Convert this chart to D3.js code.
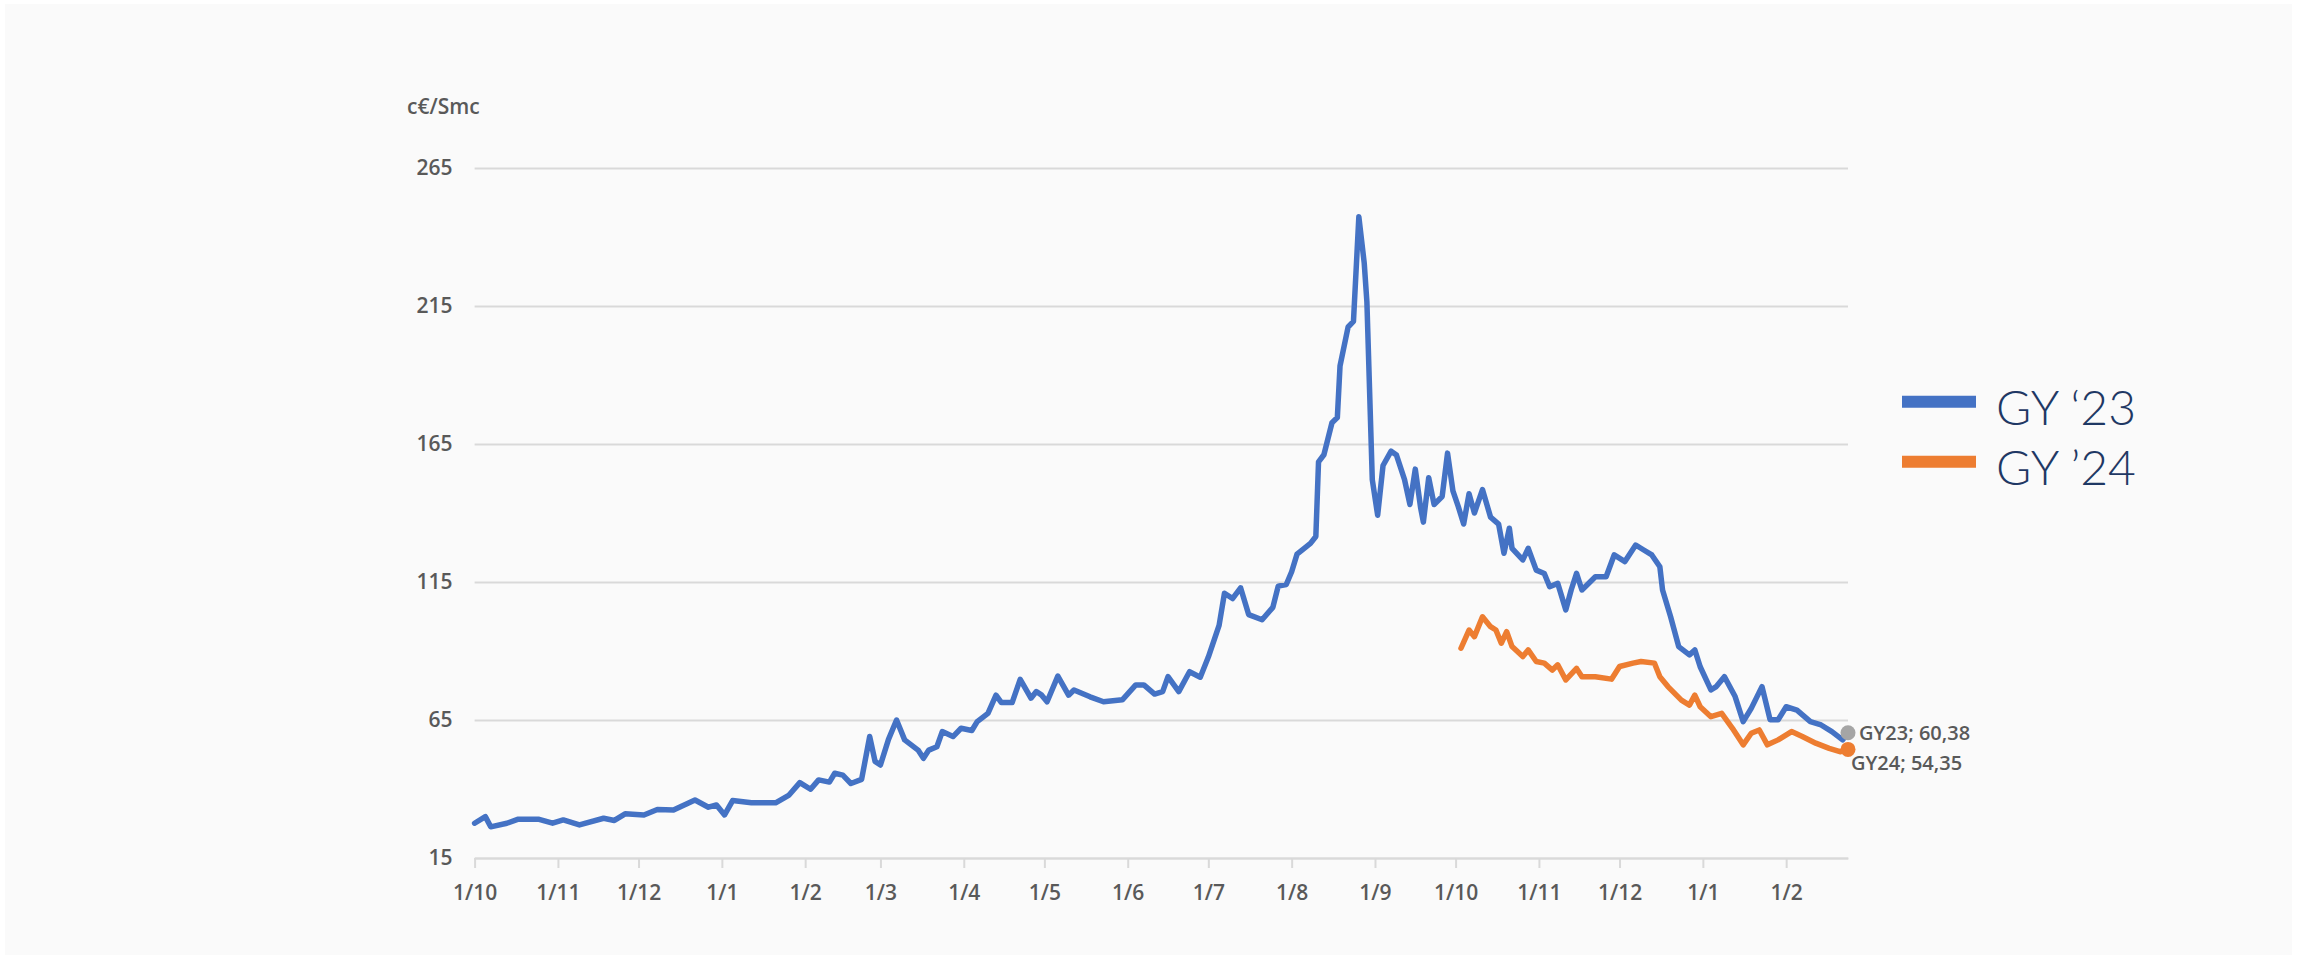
<!DOCTYPE html>
<html>
<head>
<meta charset="utf-8">
<script src="https://cdn.jsdelivr.net/npm/d3@7"></script>
<style>
  html, body { margin: 0; padding: 0; background: #ffffff; }
  svg { display: block; }
  .tick text { font-family: "Open Sans", sans-serif; }
</style>
</head>
<body>
<svg id="chart" width="2300" height="959"></svg>
<script>
// GY '23 (date, c€/Smc)
const gy23Dates = [
  "2021-10-01","2021-10-05","2021-10-07","2021-10-13","2021-10-17","2021-10-25","2021-10-30",
  "2021-11-03","2021-11-09","2021-11-18","2021-11-22","2021-11-26",
  "2021-12-03","2021-12-08","2021-12-14","2021-12-22","2021-12-27","2021-12-30",
  "2022-01-02","2022-01-05","2022-01-12","2022-01-21","2022-01-26","2022-01-30",
  "2022-02-03","2022-02-06","2022-02-10","2022-02-12","2022-02-15","2022-02-18","2022-02-22","2022-02-25","2022-02-27",
  "2022-03-01","2022-03-04","2022-03-07","2022-03-10","2022-03-15","2022-03-17","2022-03-19","2022-03-22","2022-03-24","2022-03-28","2022-03-31",
  "2022-04-04","2022-04-06","2022-04-10","2022-04-13","2022-04-15","2022-04-19","2022-04-22","2022-04-26","2022-04-28","2022-04-30",
  "2022-05-02","2022-05-06","2022-05-10","2022-05-12","2022-05-18","2022-05-23","2022-05-30",
  "2022-06-04","2022-06-07","2022-06-11","2022-06-14","2022-06-16","2022-06-20","2022-06-24","2022-06-28",
  "2022-07-01","2022-07-05","2022-07-07","2022-07-10","2022-07-13","2022-07-16","2022-07-21","2022-07-25","2022-07-27","2022-07-30",
  "2022-08-01","2022-08-03","2022-08-08","2022-08-10","2022-08-11","2022-08-13","2022-08-16","2022-08-18","2022-08-19","2022-08-22","2022-08-24","2022-08-26","2022-08-28","2022-08-29","2022-08-31",
  "2022-09-02","2022-09-04","2022-09-07","2022-09-09","2022-09-12","2022-09-14","2022-09-16","2022-09-18","2022-09-19","2022-09-21","2022-09-23","2022-09-26","2022-09-28","2022-09-30",
  "2022-10-02","2022-10-04","2022-10-06","2022-10-08","2022-10-11","2022-10-14","2022-10-17","2022-10-19","2022-10-21","2022-10-22","2022-10-26","2022-10-28","2022-10-31",
  "2022-11-03","2022-11-05","2022-11-08","2022-11-11","2022-11-13","2022-11-15","2022-11-17","2022-11-22","2022-11-26","2022-11-29",
  "2022-12-03","2022-12-07","2022-12-10","2022-12-13","2022-12-16","2022-12-17","2022-12-20","2022-12-23","2022-12-27","2022-12-29","2022-12-31",
  "2023-01-04","2023-01-06","2023-01-09","2023-01-13","2023-01-16","2023-01-19","2023-01-23","2023-01-26","2023-01-29",
  "2023-02-01","2023-02-05","2023-02-10","2023-02-14","2023-02-18","2023-02-22","2023-02-24"
];
const gy23Values = [
  27.6,30.0,26.3,27.6,29.0,29.0,27.6,
  28.8,27.0,29.4,28.6,31.0,
  30.6,32.6,32.4,36.0,33.4,34.2,
  30.6,35.8,35.0,35.0,37.8,42.3,
  39.9,43.3,42.5,45.7,45.0,42.0,43.5,59.0,50.0,
  48.7,58.0,65.0,57.8,54.1,51.1,54.1,55.3,60.8,59.0,62.0,
  61.2,64.4,67.4,74.0,71.3,71.3,79.7,72.9,75.3,74.0,
  71.6,80.9,74.0,75.9,73.4,71.6,72.3,
  77.7,77.7,74.4,75.3,80.7,75.3,82.5,80.5,
  87.8,99.3,110.9,109.0,112.9,103.2,101.3,105.8,113.5,114.1,
  118.7,125.1,129.0,131.5,158.5,161.1,172.7,174.6,193.3,207.4,209.4,247.3,230.6,216.4,152.1,
  139.2,157.2,162.4,161.0,152.1,143.1,155.9,141.8,136.7,152.8,143.1,146.0,161.7,148.0,
  142.3,136.0,147.0,140.0,148.5,138.5,136.0,125.4,134.5,127.2,123.0,127.2,119.3,
  118.1,113.3,114.5,104.9,112.1,118.1,112.1,116.9,116.9,124.8,
  122.4,128.4,126.6,124.8,120.5,112.1,102.4,91.6,88.6,90.4,84.3,
  75.9,77.1,80.7,73.5,64.4,69.2,77.1,65.1,65.1,
  69.8,68.6,64.4,63.2,60.8,57.8,60.38
];

// GY '24 (date, c€/Smc)
const gy24Dates = [
  "2022-10-03","2022-10-06","2022-10-08","2022-10-10","2022-10-11","2022-10-14","2022-10-16","2022-10-18","2022-10-20","2022-10-22","2022-10-26","2022-10-28","2022-10-31",
  "2022-11-03","2022-11-06","2022-11-08","2022-11-11","2022-11-15","2022-11-17","2022-11-22","2022-11-28",
  "2022-12-01","2022-12-06","2022-12-09","2022-12-14","2022-12-16","2022-12-19","2022-12-24","2022-12-27","2022-12-29","2022-12-31",
  "2023-01-04","2023-01-08","2023-01-12","2023-01-16","2023-01-19","2023-01-22","2023-01-25","2023-01-29",
  "2023-02-03","2023-02-07","2023-02-12","2023-02-17","2023-02-21","2023-02-24"
];
const gy24Values = [
  91.0,97.6,95.2,100.0,102.4,98.8,97.6,92.8,97.0,91.6,88.0,90.4,86.2,
  85.6,83.1,85.0,79.5,83.7,80.7,80.7,79.8,
  84.4,85.6,86.2,85.6,80.7,77.1,72.2,70.4,74.0,69.8,
  66.2,67.4,62.0,56.0,60.2,61.4,56.0,57.8,
  60.8,59.0,56.6,54.7,53.5,54.35
];

const yTicks = [15, 65, 115, 165, 215, 265];
const seriesNames = ["GY \u201823", "GY \u201924"];
const endLabels = ["GY23; 60,38", "GY24; 54,35"];

const parse = d3.timeParse("%Y-%m-%d");
const gy23 = gy23Dates.map((d, i) => ({ date: parse(d), value: gy23Values[i] }));
const gy24 = gy24Dates.map((d, i) => ({ date: parse(d), value: gy24Values[i] }));

const svg = d3.select("#chart");

// fond gris très clair avec bord blanc
svg.append("rect")
  .attr("x", 5).attr("y", 4)
  .attr("width", 2287).attr("height", 951)
  .attr("fill", "#fafafa");

const x = d3.scaleTime()
  .domain([parse("2021-10-01"), parse("2023-02-24")])
  .range([474.6, 1848]);

const y = d3.scaleLinear()
  .domain([15, 265])
  .range([858, 168]);

// grille horizontale + libellés Y
const yAxis = svg.append("g")
  .attr("transform", "translate(474.6,0)")
  .call(d3.axisLeft(y).tickValues(yTicks).tickSize(-(1848 - 474.6)).tickPadding(22));
yAxis.select(".domain").remove();
yAxis.selectAll(".tick line").attr("stroke", "#d9d9d9").attr("stroke-width", 2.2);
yAxis.selectAll(".tick text")
  .attr("fill", "#595959")
  .attr("font-size", 21)
  .attr("font-weight", 600);

// axe X
const xAxis = svg.append("g")
  .attr("transform", "translate(0,858)")
  .call(d3.axisBottom(x)
    .ticks(d3.timeMonth.every(1))
    .tickFormat(d => `1/${d.getMonth() + 1}`)
    .tickSize(10)
    .tickSizeOuter(0)
    .tickPadding(17));
xAxis.select(".domain").attr("stroke", "#d9d9d9").attr("stroke-width", 2.2);
xAxis.selectAll(".tick line").attr("stroke", "#d9d9d9").attr("stroke-width", 2);
xAxis.selectAll(".tick text")
  .attr("fill", "#595959")
  .attr("font-size", 21)
  .attr("font-weight", 600);

// unité
svg.append("text")
  .attr("x", 407).attr("y", 114)
  .attr("font-family", "Open Sans, sans-serif")
  .attr("font-size", 21)
  .attr("font-weight", 600)
  .attr("fill", "#595959")
  .text("c€/Smc");

const line = d3.line()
  .x(d => x(d.date))
  .y(d => y(d.value));

const colors = ["#4472C4", "#ED7D31"];

[gy23, gy24].forEach(function (data, i) {
  svg.append("path")
    .datum(data)
    .attr("fill", "none")
    .attr("stroke", colors[i])
    .attr("stroke-width", 5.5)
    .attr("stroke-linejoin", "round")
    .attr("stroke-linecap", "round")
    .attr("d", line);
});

// points finaux + étiquettes
const last23 = gy23[gy23.length - 1];
const last24 = gy24[gy24.length - 1];
svg.append("circle")
  .attr("cx", x(last23.date)).attr("cy", y(last23.value))
  .attr("r", 7.5).attr("fill", "#a5a5a5");
svg.append("circle")
  .attr("cx", x(last24.date)).attr("cy", y(last24.value))
  .attr("r", 7.5).attr("fill", "#ED7D31");

svg.append("text")
  .attr("x", x(last23.date) + 11).attr("y", y(last23.value) + 7)
  .attr("font-family", "Open Sans, sans-serif")
  .attr("font-size", 20).attr("font-weight", 600)
  .attr("fill", "#595959")
  .text(endLabels[0]);
svg.append("text")
  .attr("x", x(last24.date) + 3).attr("y", y(last24.value) + 21)
  .attr("font-family", "Open Sans, sans-serif")
  .attr("font-size", 20).attr("font-weight", 600)
  .attr("fill", "#595959")
  .text(endLabels[1]);

// légende
const legend = svg.append("g");
seriesNames.forEach(function (name, i) {
  const ly = 401.7 + i * 60;
  legend.append("line")
    .attr("x1", 1902).attr("x2", 1976)
    .attr("y1", ly).attr("y2", ly)
    .attr("stroke", colors[i])
    .attr("stroke-width", 12);
  legend.append("text")
    .attr("x", 1996).attr("y", ly + 23)
    .attr("font-family", "Lato, sans-serif")
    .attr("font-size", 48)
    .attr("font-weight", 300)
    .attr("fill", "#1f3864")
    .text(name);
});
</script>
</body>
</html>
